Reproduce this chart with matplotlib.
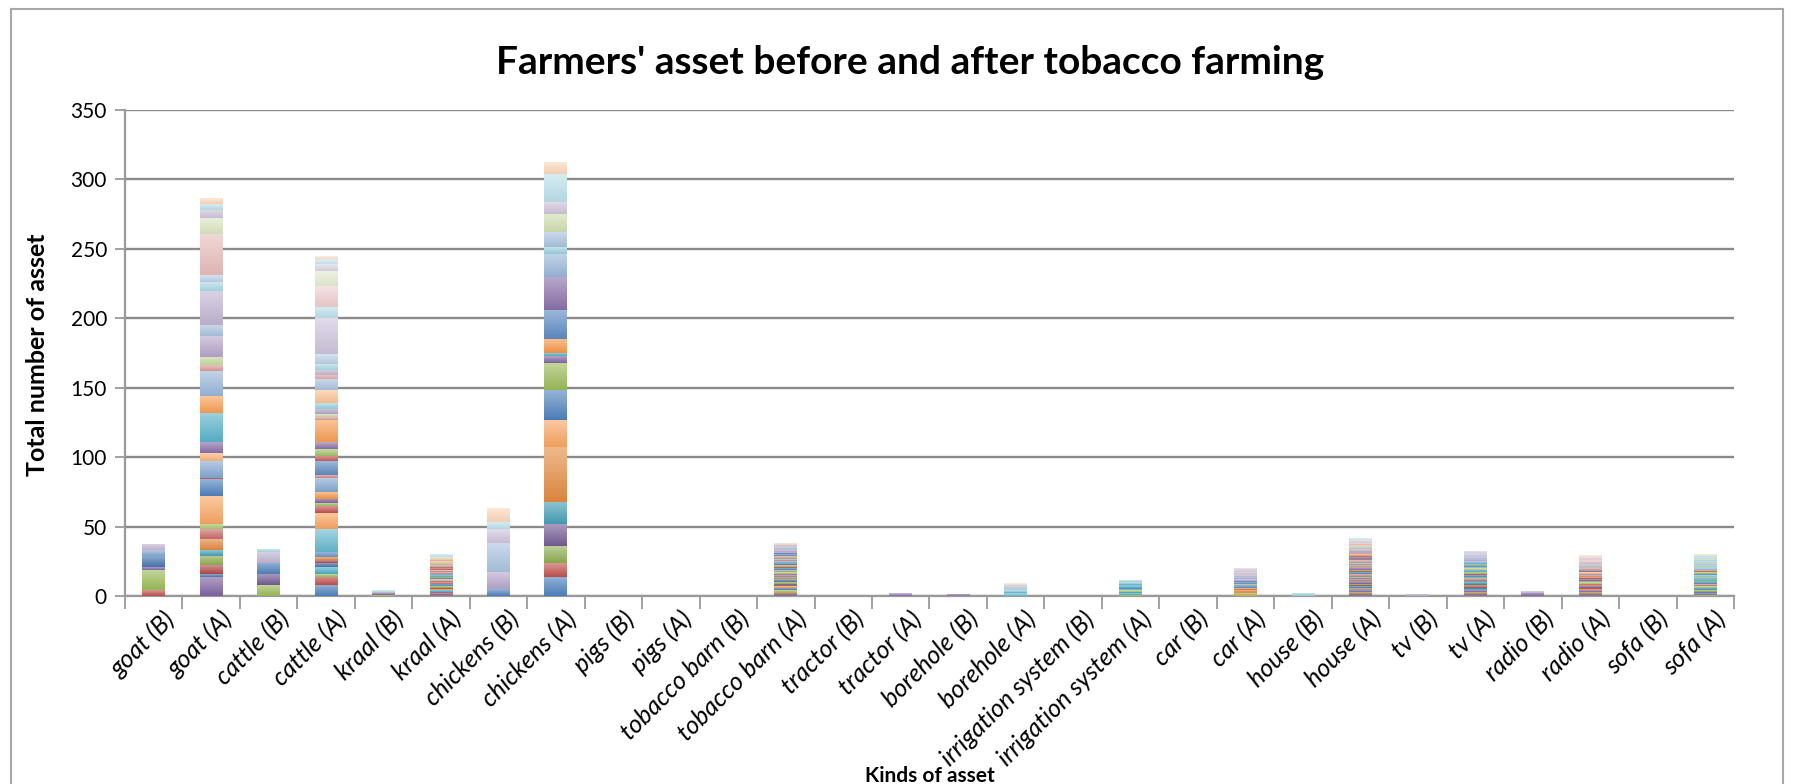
import numpy as np
import matplotlib.pyplot as plt
import matplotlib.colors as mcolors
import matplotlib.transforms as mtransforms
from matplotlib.lines import Line2D

categories = ['goat (B)', 'goat (A)', 'cattle (B)', 'cattle (A)', 'kraal (B)', 'kraal (A)',
              'chickens (B)', 'chickens (A)', 'pigs (B)', 'pigs (A)', 'tobacco barn (B)',
              'tobacco barn (A)', 'tractor (B)', 'tractor (A)', 'borehole (B)', 'borehole (A)',
              'irrigation system (B)', 'irrigation system (A)', 'car (B)', 'car (A)',
              'house (B)', 'house (A)', 'tv (B)', 'tv (A)', 'radio (B)', 'radio (A)',
              'sofa (B)', 'sofa (A)']

N_FARMERS = 60

# farmer number -> number of that asset (B = before, A = after)
goat_b = {1: 4, 2: 15, 3: 2, 6: 8, 24: 4, 45: 4}
goat_a = {3: 14, 6: 2, 7: 6, 8: 7, 10: 4, 11: 8, 13: 7, 14: 4, 17: 20, 18: 12,
          19: 1, 24: 12, 29: 6, 33: 8, 34: 21, 35: 12, 36: 18, 37: 4, 38: 6,
          39: 15, 42: 8, 45: 25, 46: 6, 48: 5, 49: 30, 50: 11, 51: 6, 52: 4, 53: 4}
cattle_b = {2: 8, 9: 8, 18: 8, 45: 8, 46: 2}
cattle_a = {0: 8, 1: 6, 2: 2, 4: 5, 6: 3, 7: 2, 11: 2, 12: 4, 16: 16, 17: 12,
            19: 5, 20: 2, 21: 3, 23: 5, 24: 10, 25: 2, 30: 10, 31: 4, 32: 5,
            33: 5, 35: 16, 37: 2, 38: 2, 39: 4, 40: 4, 41: 9, 42: 8, 43: 3,
            45: 4, 46: 4, 48: 7, 51: 26, 52: 8, 55: 15, 56: 11, 57: 5, 58: 4, 59: 2}
kraal_b = {2: 1, 3: 1, 45: 1, 52: 1}
kraal_a = {0: 1, 1: 1, 3: 1, 4: 1, 5: 1, 7: 1, 8: 1, 10: 1, 12: 1, 13: 1,
           15: 1, 17: 1, 18: 1, 20: 1, 22: 1, 24: 1, 25: 1, 27: 1, 29: 1, 31: 1,
           33: 1, 35: 1, 36: 1, 38: 1, 41: 1, 43: 1, 47: 1, 50: 1, 54: 1, 58: 1}
chickens_b = {18: 5, 39: 12, 42: 21, 51: 10, 52: 5, 53: 10}
chickens_a = {0: 14, 1: 10, 8: 12, 9: 16, 10: 16, 11: 39, 17: 20, 18: 21, 20: 20,
              21: 5, 22: 2, 23: 10, 30: 21, 33: 24, 36: 16, 40: 5, 42: 11, 44: 13,
              51: 9, 52: 20, 53: 8}
pigs_b = {}
pigs_a = {}
barn_b = {}
barn_a = {0: 1, 1: 1, 2: 2, 3: 1, 4: 1, 5: 1, 6: 1, 7: 1, 8: 1, 9: 1, 10: 1,
          11: 2, 12: 1, 13: 1, 14: 1, 16: 1, 17: 1, 18: 1, 19: 1, 20: 1, 21: 1,
          22: 1, 24: 1, 25: 1, 26: 1, 27: 1, 29: 1, 30: 1, 33: 1, 36: 1, 39: 1,
          42: 1, 45: 1, 48: 1, 51: 1, 53: 1}
tractor_b = {}
tractor_a = {21: 1, 27: 1}
borehole_b = {33: 1}
borehole_a = {16: 1, 28: 1, 34: 1, 40: 1, 46: 1, 48: 1, 51: 1, 52: 1, 59: 1}
irrigation_b = {}
irrigation_a = {2: 1, 4: 1, 10: 1, 14: 1, 16: 1, 18: 1, 22: 1, 28: 1, 34: 1, 40: 1, 46: 1}
car_b = {}
car_a = {2: 1, 5: 1, 8: 1, 11: 1, 13: 1, 17: 1, 18: 1, 24: 1, 26: 1, 30: 1,
         33: 1, 36: 1, 39: 1, 42: 1, 45: 1, 48: 1, 49: 1, 51: 1, 54: 1, 57: 1}
house_b = {40: 1, 46: 1}
house_a = {0: 1, 1: 1, 2: 1, 3: 1, 4: 1, 5: 1, 6: 1, 7: 1, 8: 1, 9: 1, 11: 1,
           12: 1, 13: 1, 14: 1, 15: 1, 17: 1, 18: 1, 19: 1, 20: 1, 21: 1, 23: 1,
           24: 1, 25: 1, 26: 1, 27: 1, 29: 1, 30: 1, 31: 1, 33: 1, 35: 1, 36: 1,
           37: 1, 39: 1, 41: 1, 42: 1, 44: 1, 47: 1, 49: 1, 52: 1, 55: 1, 58: 1}
tv_b = {39: 1}
tv_a = {0: 1, 1: 1, 2: 1, 3: 1, 4: 1, 6: 1, 7: 1, 8: 1, 9: 1, 10: 1, 12: 1,
        13: 1, 14: 1, 16: 1, 18: 1, 19: 1, 20: 1, 22: 1, 24: 1, 26: 1, 28: 1,
        30: 1, 32: 1, 34: 1, 36: 1, 39: 1, 42: 1, 45: 1, 48: 1, 51: 1, 54: 1, 57: 1}
radio_b = {21: 1, 33: 1, 45: 1}
radio_a = {0: 1, 1: 1, 2: 1, 3: 1, 5: 1, 7: 1, 9: 1, 11: 1, 13: 1, 14: 1, 16: 1,
           19: 1, 21: 1, 23: 1, 25: 1, 27: 1, 29: 1, 31: 1, 34: 1, 37: 1, 40: 1,
           43: 1, 46: 1, 49: 1, 51: 1, 53: 1, 55: 1, 57: 1, 59: 1}
sofa_b = {}
sofa_a = {2: 1, 3: 1, 6: 1, 8: 1, 10: 1, 12: 1, 14: 1, 15: 1, 17: 1, 18: 1,
          20: 1, 22: 1, 24: 1, 26: 1, 28: 1, 30: 1, 32: 1, 33: 1, 35: 1, 36: 1,
          38: 1, 40: 1, 42: 1, 44: 1, 46: 1, 48: 1, 50: 1, 52: 1, 54: 1, 56: 1}

per_category = [goat_b, goat_a, cattle_b, cattle_a, kraal_b, kraal_a, chickens_b,
                chickens_a, pigs_b, pigs_a, barn_b, barn_a, tractor_b, tractor_a,
                borehole_b, borehole_a, irrigation_b, irrigation_a, car_b, car_a,
                house_b, house_a, tv_b, tv_a, radio_b, radio_a, sofa_b, sofa_a]

values = np.zeros((N_FARMERS, len(categories)))
for j, d in enumerate(per_category):
    for f, v in d.items():
        values[f, j] = v

# excel-ish palette: 6 accents, then darker / lighter tiers
BASE = ['#4F81BD', '#C0504D', '#9BBB59', '#8064A2', '#4BACC6', '#F79646']
TIERS = [0.0, -0.08, 0.15, 0.0, 0.3, 0.08, 0.42, 0.52, 0.62, 0.72]


def tint(c, t):
    c = np.array(c)
    if t >= 0:
        return c + (1 - c) * t
    return c * (1 + t)


farmer_colors = []
for i in range(N_FARMERS):
    base = np.array(mcolors.to_rgb(BASE[i % 6]))
    farmer_colors.append(tint(base, TIERS[(i // 6) % len(TIERS)]))

plt.rcParams['font.family'] = ['Lato', 'DejaVu Sans']

W, H = 1795, 784
fig = plt.figure(figsize=(W / 100, H / 100), dpi=100)
L, R, B, T = 125, 1734, 596, 110
ax = fig.add_axes([L / W, 1 - B / H, (R - L) / W, (B - T) / H])

x = np.arange(len(categories))
bottom = np.zeros(len(categories))
for f in range(N_FARMERS):
    bars = ax.bar(x, values[f], 0.4, bottom=bottom, color=farmer_colors[f],
                  linewidth=0, zorder=2)
    c = farmer_colors[f]
    grad = np.linspace(tint(c, 0.4), tint(c, -0.04), 32)[:, None, :]
    for p in bars:
        if p.get_height() <= 0:
            continue
        x0, y0 = p.get_x(), p.get_y()
        ax.imshow(grad, extent=(x0, x0 + p.get_width(), y0, y0 + p.get_height()),
                  aspect='auto', interpolation='bilinear', zorder=3)
    bottom += values[f]

ax.set_xlim(-0.5, len(categories) - 0.5)
ax.set_ylim(0, 350)
ax.set_yticks(np.arange(0, 351, 50))
ax.yaxis.grid(True, color='#8a8a8a', lw=1.7, zorder=0)
ax.set_axisbelow(True)

ax.set_xticks(np.arange(-0.5, len(categories), 1))
ax.set_xticklabels([])
ax.set_xticks(x, minor=True)
ax.set_xticklabels(categories, minor=True, rotation=45, ha='right',
                   rotation_mode='anchor', fontsize=18, style='italic')
ax.tick_params(axis='x', which='major', length=9, color='#9a9a9a', width=1.3)
ax.tick_params(axis='x', which='minor', length=0, pad=8)
ax.tick_params(axis='y', length=7, color='#9a9a9a', width=1.3, labelsize=15, pad=6)
shift = mtransforms.ScaledTranslation(9 / 100, 0, fig.dpi_scale_trans)
for lab in ax.get_xticklabels(minor=True):
    lab.set_transform(lab.get_transform() + shift)

for s in ['top', 'right']:
    ax.spines[s].set_visible(False)
for s in ['left', 'bottom']:
    ax.spines[s].set_color('#9a9a9a')
    ax.spines[s].set_linewidth(1.6)

fig.text(910 / W, 1 - 63 / H, "Farmers' asset before and after tobacco farming",
         ha='center', va='center', fontsize=28, weight='bold')
fig.text(38 / W, 1 - 355 / H, 'Total number of asset', rotation=90,
         ha='center', va='center', fontsize=18, weight='bold')
fig.text(930 / W, 1 - 776 / H, 'Kinds of asset', ha='center', va='center',
         fontsize=15, weight='bold')

# chart frame
fc = '#a8a8a8'
fig.add_artist(Line2D([11 / W, 11 / W], [0, 1 - 9 / H], color=fc, lw=1.5))
fig.add_artist(Line2D([11 / W, 1783 / W], [1 - 9 / H, 1 - 9 / H], color=fc, lw=1.5))
fig.add_artist(Line2D([1783 / W, 1783 / W], [0, 1 - 9 / H], color=fc, lw=1.5))

fig.savefig('out.png', dpi=100, facecolor='white')
